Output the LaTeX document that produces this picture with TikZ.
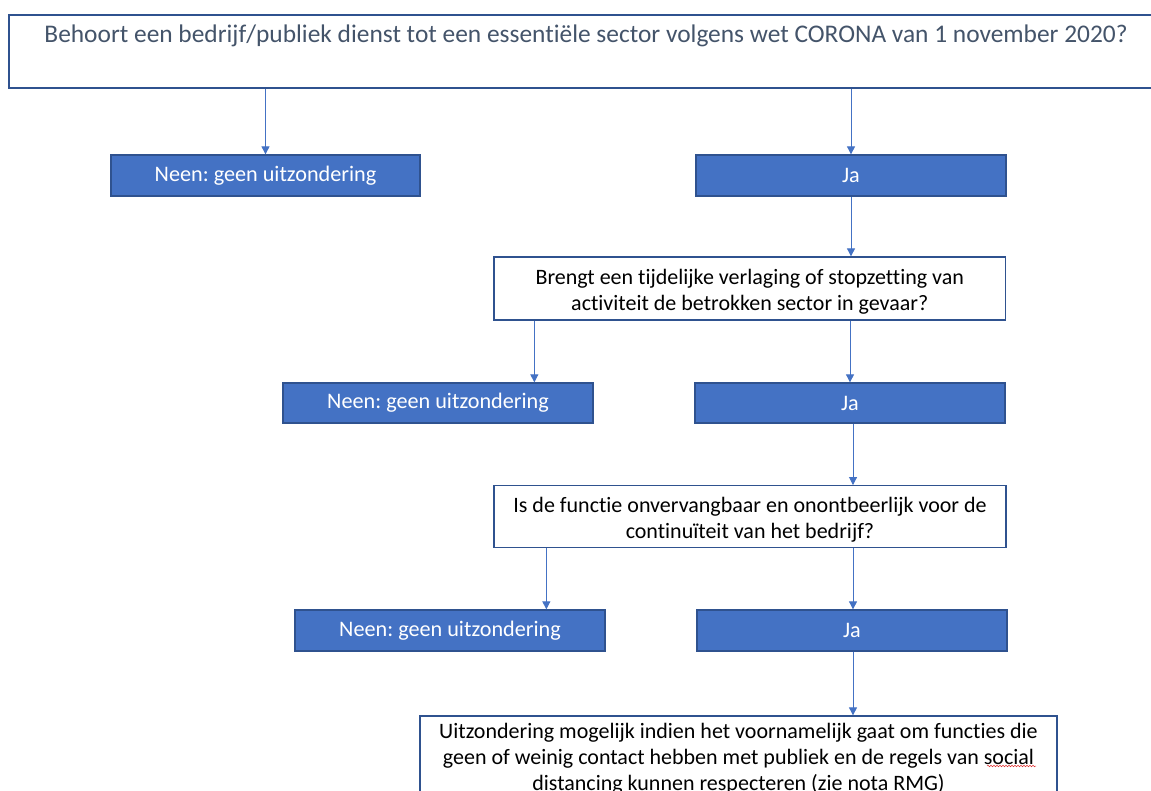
\documentclass[tikz,border=0pt]{standalone}
\usepackage{fontspec}
\setmainfont{Carlito}[Ligatures={NoCommon}]
\usetikzlibrary{arrows.meta,calc,decorations.pathmorphing}
\definecolor{boxblue}{HTML}{4472C4}
\definecolor{edgeblue}{HTML}{2F528F}
\definecolor{titlegray}{HTML}{44546A}
\definecolor{squiggle}{HTML}{E03030}
\tikzset{
  bluebox/.style={draw=edgeblue, fill=boxblue, line width=1.3pt, text=white, inner sep=0pt,
    font=\fontsize{22.2}{26}\selectfont},
  whitebox/.style={draw=edgeblue, fill=white, line width=1.3pt, text=black, inner sep=0pt, align=center,
    font=\fontsize{22}{26}\selectfont},
  arr/.style={draw=boxblue, line width=0.9pt, -{Triangle[width=8pt,length=8pt]}},
}
\begin{document}
\frenchspacing
\begin{tikzpicture}[x=1pt,y=-1pt]
\useasboundingbox (0,0) rectangle (1151,791);
\clip (0,0) rectangle (1151,791);
\fill[white] (0,0) rectangle (1151,791);
% top question
\node[draw=edgeblue, line width=1.3pt, minimum width=1154pt, minimum height=73pt, inner sep=0pt] (top) at (586,51.5) {};
\node[anchor=base, text=titlegray, inner sep=0pt, font=\fontsize{25.4}{30}\selectfont] (toptext) at (586,42.7)
  {Behoort een bedrijf/publiek dienst tot een essentiële sector volgens wet CORONA van 1 november 2020?};
% level 1
\node[bluebox, minimum width=309pt, minimum height=41pt] (n1) at (265.5,175.5) {Neen: geen uitzondering};
\node[bluebox, minimum width=310pt, minimum height=41pt] (j1) at (851,175.5) {Ja};
% level 2
\node[whitebox, minimum width=511.5pt, minimum height=63pt] (b2) at (749.75,288.5)
  {\rule{0pt}{22pt}Brengt een tijdelijke verlaging of stopzetting van\\activiteit de betrokken sector in gevaar?};
\node[bluebox, minimum width=310pt, minimum height=40pt] (n2) at (438,403) {Neen: geen uitzondering};
\node[bluebox, minimum width=310pt, minimum height=40pt] (j2) at (850,403) {Ja};
% level 3
\node[whitebox, minimum width=512pt, minimum height=62pt] (b3) at (750,516.7)
  {\rule{0pt}{22pt}Is de functie onvervangbaar en onontbeerlijk voor de\\continuïteit van het bedrijf?};
\node[bluebox, minimum width=310pt, minimum height=41pt] (n3) at (450,630.5) {Neen: geen uitzondering};
\node[bluebox, minimum width=310pt, minimum height=41pt] (j3) at (852,630.5) {Ja};
% final
\node[whitebox, minimum width=637pt, minimum height=86pt] (b4) at (738.5,759)
  {Uitzondering mogelijk indien het voornamelijk gaat om functies die\\geen of weinig contact hebben met publiek en de regels van social\\distancing kunnen respecteren (zie nota RMG)};
\draw[squiggle, line width=0.5pt, decorate, decoration={snake, amplitude=0.8pt, segment length=3pt}] (987,766) -- (1036,766);
% connectors
\draw[arr] (n1.north |- top.south) -- (n1.north);
\draw[arr] (j1.north |- top.south) -- (j1.north);
\draw[arr] (j1.south) -- (j1.south |- b2.north);
\coordinate (c2) at ($(b2.south west)+(41,0)$);
\draw[arr] (c2) -- (c2 |- n2.north);
\draw[arr] (j2.north |- b2.south) -- (j2.north);
\coordinate (c3) at ($(j2.south)+(3,0)$);
\draw[arr] (c3) -- (c3 |- b3.north);
\coordinate (c4) at ($(b3.south west)+(53,0)$);
\draw[arr] (c4) -- (c4 |- n3.north);
\coordinate (c5) at ($(j3.north)+(1,0)$);
\draw[arr] (c5 |- b3.south) -- (c5);
\coordinate (c6) at ($(j3.south)+(1,0)$);
\draw[arr] (c6) -- (c6 |- b4.north);
\end{tikzpicture}
\end{document}
